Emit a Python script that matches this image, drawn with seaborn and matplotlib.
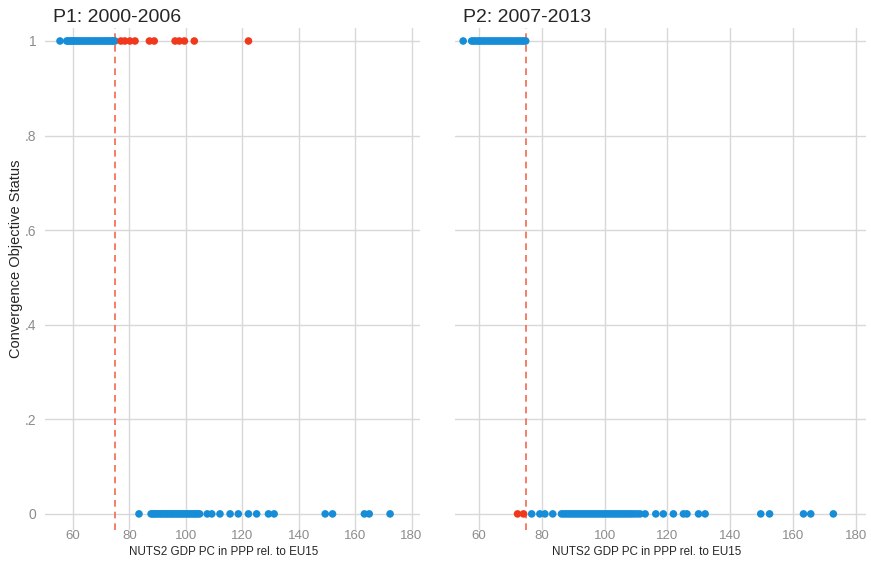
import pandas as pd
import matplotlib
matplotlib.use("Agg")
import matplotlib.pyplot as plt
import seaborn as sns

# Values (GDP PC in PPP rel. to EU15)
p1_conv_below = [55.4, 57.8, 58.3, 58.9, 59.4, 60.0, 60.5, 61.1, 61.7, 62.3, 62.9, 63.6,
                 64.2, 64.9, 65.5, 66.1, 66.8, 67.5, 68.1, 68.8, 69.4, 70.1, 70.7, 71.4,
                 72.0, 72.6, 73.2, 73.8, 74.3, 74.9]
p1_conv_above = [77.0, 78.4, 80.2, 82.0, 87.1, 88.8, 96.2, 97.7, 99.5, 103.0, 122.2]
p1_nonconv = [83.4, 87.7, 88.3, 88.9, 89.5, 90.1, 90.8, 91.4, 92.0, 92.7, 93.3, 93.9,
              94.6, 95.2, 95.8, 96.5, 97.1, 97.8, 98.4, 99.0, 99.7, 100.3, 101.0, 101.6,
              102.3, 102.9, 103.6, 104.2, 104.9, 107.6, 109.2, 112.1, 115.7, 118.6,
              122.2, 125.1, 129.3, 131.3, 149.4, 152.0, 163.3, 165.0, 172.4]

p2_conv = [55.0, 57.7, 58.3, 58.9, 59.6, 60.2, 60.8, 61.5, 62.1, 62.8, 63.4, 64.1,
           64.7, 65.4, 66.0, 66.7, 67.3, 68.0, 68.6, 69.3, 69.9, 70.6, 71.2, 71.9,
           72.5, 73.2, 73.8, 74.4, 74.9]
p2_nonconv_below = [72.3, 74.2]
p2_nonconv = [76.8, 79.4, 81.0, 83.5, 86.3, 87.0, 87.7, 88.4, 89.1, 89.8, 90.5, 91.2,
              91.9, 92.6, 93.3, 94.0, 94.7, 95.4, 96.1, 96.8, 97.5, 98.2, 98.9, 99.6,
              100.3, 101.0, 101.7, 102.4, 103.1, 103.8, 104.5, 105.2, 105.9, 106.6,
              107.3, 108.0, 108.7, 109.5, 110.4, 111.3, 112.9, 116.3, 118.7, 121.9,
              125.1, 126.2, 129.9, 132.0, 149.7, 152.5, 163.3, 165.6, 172.8]

threshold = 75
panel_titles = ["P1: 2000-2006", "P2: 2007-2013"]
x_ticks = [60, 80, 100, 120, 140, 160, 180]
y_ticks = [0, 0.2, 0.4, 0.6, 0.8, 1]
y_ticklabels = ["0", ".2", ".4", ".6", ".8", "1"]

def make_df(blue1, red1, blue0, red0):
    rows = []
    for v in blue1:
        rows.append((v, 1, "normal"))
    for v in red1:
        rows.append((v, 1, "odd"))
    for v in blue0:
        rows.append((v, 0, "normal"))
    for v in red0:
        rows.append((v, 0, "odd"))
    return pd.DataFrame(rows, columns=["gdp", "status", "group"])

df1 = make_df(p1_conv_below, p1_conv_above, p1_nonconv, [])
df2 = make_df(p2_conv, [], p2_nonconv, p2_nonconv_below)

sns.set_style("white")
plt.rcParams["font.family"] = ["Liberation Sans", "DejaVu Sans"]

blue = "#168dd6"
red = "#f0391c"
grid_col = "#d8d8d8"

fig = plt.figure(figsize=(8.71, 5.61), dpi=100)
ax1 = fig.add_axes([0.0517, 0.0553, 0.4305, 0.8948])
ax2 = fig.add_axes([0.5224, 0.0553, 0.4719, 0.8948])

for ax, df, title, xlim, lab_x in [(ax1, df1, panel_titles[0], (50.1, 183), 0.477),
                                   (ax2, df2, panel_titles[1], (52.4, 183.2), 0.465)]:
    ax.set_axisbelow(True)
    for t in x_ticks:
        ax.axvline(t, color=grid_col, lw=1, zorder=0)
    for t in y_ticks:
        ax.axhline(t, color=grid_col, lw=1, zorder=0)
    sns.scatterplot(data=df, x="gdp", y="status", hue="group",
                    palette={"normal": blue, "odd": red},
                    s=30, linewidth=0, legend=False, ax=ax, zorder=3)
    ax.axvline(threshold, color="#f4684e", lw=1.2, ls=(0, (4, 3)), zorder=2)
    ax.set_xlim(*xlim)
    ax.set_ylim(-0.034, 1.0275)
    ax.set_xticks(x_ticks)
    ax.set_yticks(y_ticks)
    ax.tick_params(axis="y", length=0, labelsize=10, labelcolor="#8c8c8c", pad=6)
    ax.tick_params(axis="x", length=0, labelsize=9.5, labelcolor="#8c8c8c", pad=0)
    ax.set_xlabel("NUTS2 GDP PC in PPP rel. to EU15", fontsize=8.4, labelpad=0)
    ax.xaxis.set_label_coords(lab_x, -0.031)
    ax.xaxis.label.set_va("top")
    ax.set_title(title, loc="left", fontsize=14, pad=4, x=0.02)
    for s in ax.spines.values():
        s.set_visible(False)

ax1.set_yticklabels(y_ticklabels)
ax1.set_ylabel("Convergence Objective Status", fontsize=10.5, labelpad=0)
ax1.yaxis.set_label_coords(-0.06, 0.54)
ax2.set_yticklabels([])
ax2.set_ylabel("")

plt.savefig("out.png", dpi=100)
